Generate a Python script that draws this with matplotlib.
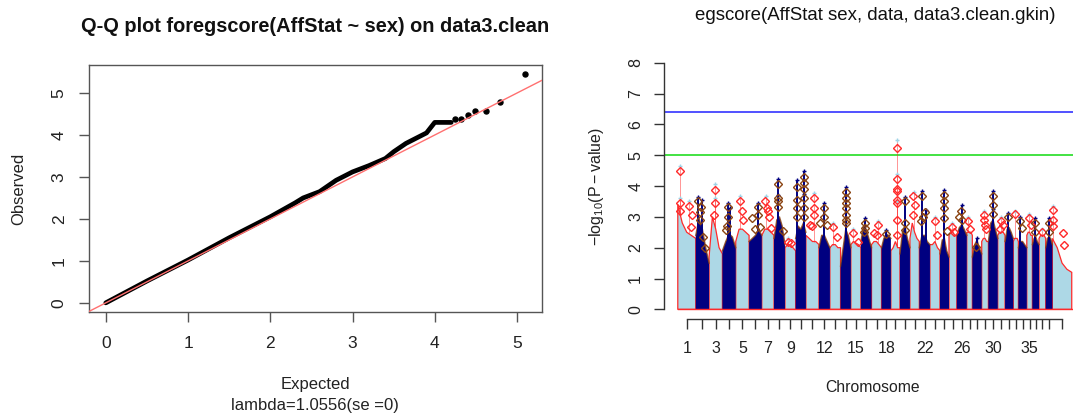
#!/usr/bin/env python3
# qq plot + manhattan plot for egscore(AffStat ~ sex) on data3.clean

import numpy as np
import matplotlib.pyplot as plt
from matplotlib.patches import Polygon

plt.rcParams['font.family'] = ['Liberation Sans', 'DejaVu Sans']
plt.rcParams['mathtext.fontset'] = 'custom'
plt.rcParams['mathtext.rm'] = 'Liberation Sans'
plt.rcParams['mathtext.it'] = 'Liberation Sans:italic'

# --- Q-Q panel: dense part of the trace (expected, observed)
qq_expected = [0.0, 0.5, 1.0, 1.5, 2.0, 2.3, 2.4, 2.6, 2.8, 3.0, 3.2, 3.4, 3.5,
               3.65, 3.8, 3.9, 3.96, 4.0, 4.1, 4.2]
qq_observed = [0.0, 0.52, 1.02, 1.55, 2.05, 2.38, 2.5, 2.65, 2.92, 3.12, 3.27,
               3.44, 3.6, 3.8, 3.95, 4.05, 4.2, 4.3, 4.3, 4.3]
# sparse tail points
tail_expected = [4.25, 4.32, 4.4, 4.49, 4.62, 4.79, 5.1]
tail_observed = [4.37, 4.39, 4.47, 4.56, 4.57, 4.79, 5.45]
lambda_text = 'lambda=1.0556(se =0)'

# --- manhattan panel
chrom_ids = list(range(1, 40))
chrom_len = [113, 84, 84, 84, 84, 80, 77, 69, 67, 65, 82, 69, 67, 65, 63, 67,
             63, 59, 57, 63, 59, 67, 63, 57, 49, 63, 35, 59, 42, 59, 46, 52,
             32, 53, 35, 42, 42, 42, 122]
# silhouette heights at 0, 1/4, 1/2, 3/4, 1 along each chromosome
chrom_profile = [
    [3.4, 2.8, 2.5, 2.4, 2.3], [2.4, 2.95, 2.6, 2.0, 1.5], [1.7, 3.0, 2.6, 2.0, 1.8],
    [1.9, 2.2, 2.45, 2.35, 2.0], [2.2, 2.6, 2.6, 2.5, 2.4], [2.2, 2.3, 2.4, 2.6, 2.4],
    [2.4, 2.6, 2.6, 2.5, 2.4], [2.3, 2.9, 3.0, 2.7, 2.1], [2.0, 2.1, 2.1, 2.0, 1.9],
    [2.3, 2.7, 2.6, 2.8, 2.5], [2.4, 2.3, 2.2, 2.2, 2.1], [2.0, 2.4, 2.4, 2.2, 2.0],
    [2.0, 2.1, 2.1, 2.0, 2.0], [1.4, 2.0, 2.6, 2.4, 2.0], [2.1, 2.2, 2.15, 2.1, 2.0],
    [2.2, 2.7, 2.6, 2.3, 2.0], [2.1, 2.2, 2.2, 2.1, 2.0], [2.0, 2.3, 2.45, 2.4, 2.3],
    [1.9, 2.0, 2.2, 2.0, 2.0], [1.8, 2.5, 2.7, 2.3, 2.0], [2.3, 2.8, 2.5, 2.3, 2.2],
    [2.0, 2.4, 2.4, 2.2, 2.1], [2.1, 2.1, 2.2, 2.0, 1.9], [1.8, 2.25, 2.3, 1.9, 1.7],
    [2.4, 2.5, 2.5, 2.4, 2.4], [2.4, 2.65, 2.75, 2.6, 2.4], [2.5, 2.5, 2.5, 2.5, 2.4],
    [1.7, 2.1, 2.25, 2.0, 1.8], [2.2, 2.3, 2.3, 2.2, 2.2], [2.2, 2.8, 2.9, 2.6, 2.3],
    [2.4, 2.5, 2.5, 2.5, 2.4], [2.2, 2.6, 2.65, 2.5, 2.3], [2.2, 2.3, 2.3, 2.3, 2.2],
    [2.0, 2.2, 2.2, 2.1, 2.0], [2.4, 2.5, 2.5, 2.4, 2.4], [2.1, 2.3, 2.35, 2.2, 2.1],
    [2.3, 2.4, 2.4, 2.4, 2.3], [2.0, 2.3, 2.35, 2.3, 2.1], [2.3, 2.0, 1.5, 1.3, 1.2],
]
# top hits of the second scan (open diamonds): position fraction, -log10(p)
diamond_pos = [
    [0.13, 0.13, 0.6, 0.78, 0.75, 0.1], [0.2, 0.4, 0.33, 0.3, 0.55, 0.7],
    [0.45, 0.45, 0.4], [0.4, 0.4, 0.33, 0.25], [0.35, 0.5, 0.58],
    [0.2, 0.73, 0.68, 0.85, 0.5], [0.27, 0.4, 0.55, 0.75, 0.5],
    [0.4, 0.4, 0.4, 0.4, 0.85], [0.3, 0.6],
    [0.85, 0.85, 0.15, 0.15, 0.15, 0.85, 0.85, 0.85, 0.85, 0.15],
    [0.65, 0.65, 0.65, 0.45, 0.3], [0.45, 0.45, 0.1, 0.7], [0.25, 0.7],
    [0.55, 0.55, 0.55, 0.55, 0.55, 0.55, 0.55], [0.25, 0.7], [0.4, 0.4, 0.3],
    [0.2, 0.65, 0.5], [0.5], [0.7, 0.7, 0.7, 0.7, 0.7, 0.7, 0.7, 0.7],
    [0.5, 0.5, 0.5], [0.35, 0.5, 0.35], [0.3, 0.35, 0.55, 0.2], [0.5, 0.75],
    [0.45, 0.45, 0.45, 0.45, 0.75], [0.35, 0.6], [0.4, 0.2, 0.5], [0.3, 0.6],
    [0.4], [0.4, 0.4, 0.5, 0.6], [0.45, 0.45, 0.45], [0.5, 0.3, 0.7], [0.3],
    [0.3], [0.2, 0.45], [0.4, 0.7], [0.4, 0.4], [0.4], [0.5, 0.5],
    [0.05, 0.05, 0.55, 0.6, 0.05],
]
diamond_val = [
    [4.48, 3.45, 3.36, 3.06, 2.66, 3.2], [3.5, 3.33, 3.17, 2.9, 2.36, 2.0],
    [3.87, 3.44, 3.06], [3.33, 3.0, 2.7, 2.58], [3.5, 3.2, 2.9],
    [2.95, 3.33, 3.06, 2.68, 2.6], [3.5, 3.28, 3.0, 2.63, 3.2],
    [4.07, 3.6, 3.5, 3.33, 2.55], [2.2, 2.15],
    [4.29, 4.1, 3.96, 3.55, 3.28, 3.9, 3.6, 3.3, 3.0, 3.0],
    [3.6, 3.28, 3.06, 2.7, 2.75], [3.28, 3.0, 2.8, 2.75], [2.68, 2.36],
    [3.82, 3.6, 3.45, 3.28, 3.06, 2.9, 2.8], [2.47, 2.2], [2.8, 2.65, 2.5],
    [2.47, 2.74, 2.4], [2.45], [5.23, 4.22, 3.9, 3.85, 3.55, 3.44, 2.9, 2.4],
    [3.5, 2.8, 2.58], [3.66, 3.39, 3.06], [3.68, 3.0, 3.15, 2.85], [2.85, 2.41],
    [3.71, 3.5, 3.28, 2.95, 2.55], [2.68, 2.5], [3.2, 3.0, 2.9], [2.88, 2.6],
    [2.03], [3.06, 2.9, 2.74, 2.6], [3.66, 3.39, 3.1], [2.85, 2.6, 2.74], [3.0],
    [3.08], [2.85, 2.63], [2.97, 2.74], [2.8, 2.52], [2.5], [2.81, 2.52],
    [3.22, 2.7, 2.47, 2.1, 2.9],
]
# top hits of the first scan (small crosses)
cross_pos = [
    [0.13, 0.13, 0.6], [0.2, 0.45], [0.45, 0.45], [0.4, 0.55], [0.35], [0.73],
    [0.35], [0.4, 0.4], [0.3], [0.85, 0.15, 0.85, 0.85], [0.65], [0.45], [0.25],
    [0.55, 0.55], [0.25], [0.4], [0.65], [0.5], [0.7, 0.7, 0.7], [0.5], [0.4],
    [0.3, 0.6], [0.5], [0.45, 0.45], [0.35], [0.5], [0.3], [0.5], [0.4],
    [0.45, 0.45], [0.5], [0.3], [0.3], [0.2], [0.4], [0.4], [0.4], [0.5], [0.05],
]
cross_val = [
    [4.66, 3.62, 3.52], [3.64, 3.55], [4.05, 3.6], [3.46, 3.28], [3.66], [3.45],
    [3.66], [4.22, 3.72], [2.3], [4.5, 4.2, 4.2, 3.75], [3.77], [3.45], [2.8],
    [3.98, 3.7], [2.6], [2.95], [2.88], [2.58], [5.48, 4.39, 3.52], [3.64], [3.82],
    [3.85, 3.22], [2.98], [3.87, 3.38], [2.8], [3.39], [3.0], [2.3], [3.18],
    [3.85, 3.25], [2.98], [3.13], [3.2], [3.0], [3.1], [2.95], [2.62], [2.95],
    [3.36],
]
label_chroms = [1, 3, 5, 7, 9, 12, 15, 18, 22, 26, 30, 35]
blue_line = 6.4
green_line = 5.0

LB, NAVY, RED, BROWN = '#add8e6', '#000080', '#ff2a2a', '#8b4513'

W, H = 1073, 415
fig = plt.figure(figsize=(W / 100, H / 100), dpi=100)

def frame(l, t, r, b):
    # pixel box -> figure fraction
    return [l / W, 1 - b / H, (r - l) / W, (b - t) / H]

# ---------------- left: Q-Q plot
ax1 = fig.add_axes(frame(89, 65, 542, 312))
ax1.plot(qq_expected, qq_observed, '-', color='black', lw=3.4,
         solid_capstyle='round', solid_joinstyle='round', zorder=2)
ax1.plot(tail_expected, tail_observed, 'o', color='black', ms=3.6, zorder=2)
ax1.axline((0, 0), slope=1, color='#ff7070', lw=1, zorder=3)
ax1.set_xlim(-0.204, 5.304)
ax1.set_ylim(-0.218, 5.668)
ax1.set_xticks(range(6))
ax1.set_yticks(range(6))
for s in ax1.spines.values():
    s.set_color('#555555')
    s.set_linewidth(1)
ax1.tick_params(axis='both', direction='out', length=7, width=1, color='#555555',
                labelsize=12.5, labelcolor='#222222')
ax1.tick_params(axis='x', pad=10)
ax1.tick_params(axis='y', pad=9, labelrotation=90)
for lab in ax1.get_yticklabels():
    lab.set_verticalalignment('center')

fig.text(315 / W, 1 - 26 / H, 'Q-Q plot foregscore(AffStat ~ sex) on data3.clean',
         ha='center', va='center', fontsize=14.4, fontweight='bold', color='#111111')
fig.text(315 / W, 1 - 384 / H, 'Expected', ha='center', va='center',
         fontsize=12, color='#222222')
fig.text(315 / W, 1 - 405 / H, lambda_text, ha='center', va='center',
         fontsize=12, color='#222222')
fig.text(19 / W, 1 - 189 / H, 'Observed', ha='center', va='center',
         rotation=90, fontsize=12, color='#222222')

# ---------------- right: manhattan plot
ax2 = fig.add_axes(frame(664, 52.8, 1087.5, 319.2))
starts = np.concatenate([[0], np.cumsum(chrom_len)[:-1]])
total = float(np.sum(chrom_len))
mids = starts + np.array(chrom_len) / 2
fr = np.array([0, 0.25, 0.5, 0.75, 1.0])

for i, c in enumerate(chrom_ids):
    x0, ln = starts[i], chrom_len[i]
    xs = x0 + fr * ln
    prof = chrom_profile[i]
    verts = [(x0, 0)] + list(zip(xs, prof)) + [(x0 + ln, 0)]
    odd = c % 2 == 1
    cx = x0 + np.array(cross_pos[i]) * ln
    dx = x0 + np.array(diamond_pos[i]) * ln
    if odd:
        ax2.add_patch(Polygon(verts, closed=True, facecolor=LB, edgecolor=RED,
                              lw=0.9, zorder=2))
        # column of red points above the body at each hit
        base = np.interp(cx, xs, prof)
        ax2.vlines(cx, base, cross_val[i], color=RED, lw=0.7, alpha=0.5, zorder=2)
    else:
        ax2.add_patch(Polygon(verts, closed=True, facecolor=NAVY, edgecolor='none',
                              zorder=3))
        ax2.plot(xs, prof, color=BROWN, lw=1.0, alpha=0.8, zorder=3)
        ax2.vlines(cx, 0, cross_val[i], color=NAVY, lw=1.4, zorder=3)
    ax2.plot(cx, cross_val[i], '+', ms=3.5, mew=1,
             color='#9fd3e6' if odd else NAVY, zorder=4)
    ax2.plot(dx, diamond_val[i], 'D', ms=3.6, mew=1, mfc='none',
             mec=RED if odd else BROWN, zorder=5)

ax2.plot([0, total], [0, 0], color=RED, lw=1.0, zorder=4)
ax2.axhline(blue_line, color='#3333ff', lw=1.2, zorder=1)
ax2.axhline(green_line, color='#22dd22', lw=1.2, zorder=1)

ax2.set_xlim(-0.035 * total, 1.04 * total)
ax2.set_ylim(-0.32, 8.32)
ax2.spines['top'].set_visible(False)
ax2.spines['right'].set_visible(False)
ax2.spines['left'].set_bounds(0, 8)
ax2.spines['bottom'].set_bounds(mids[0], mids[-1])
for s in ('left', 'bottom'):
    ax2.spines[s].set_color('#333333')
    ax2.spines[s].set_linewidth(1)
ax2.set_yticks(range(9))
ax2.set_xticks(mids)
ax2.set_xticklabels([str(c) if c in label_chroms else '' for c in chrom_ids])
ax2.tick_params(axis='both', direction='out', length=7, width=1, color='#333333',
                labelsize=11.5, labelcolor='#222222')
ax2.tick_params(axis='x', pad=9)
ax2.tick_params(axis='y', pad=8, labelrotation=90)
for lab in ax2.get_yticklabels():
    lab.set_verticalalignment('center')

fig.text(875 / W, 1 - 16 / H, 'egscore(AffStat sex, data, data3.clean.gkin)',
         ha='center', va='center', fontsize=13.4, color='#111111')
fig.text(873 / W, 1 - 387 / H, 'Chromosome', ha='center', va='center',
         fontsize=11.3, color='#222222')
fig.text(597 / W, 1 - 186 / H, r'$-\mathrm{log}_{10}(\mathrm{P}-\mathrm{value})$',
         ha='center', va='center', rotation=90, fontsize=11.5, color='#222222')

fig.savefig('out.png', dpi=100)
print('done: out.png')
